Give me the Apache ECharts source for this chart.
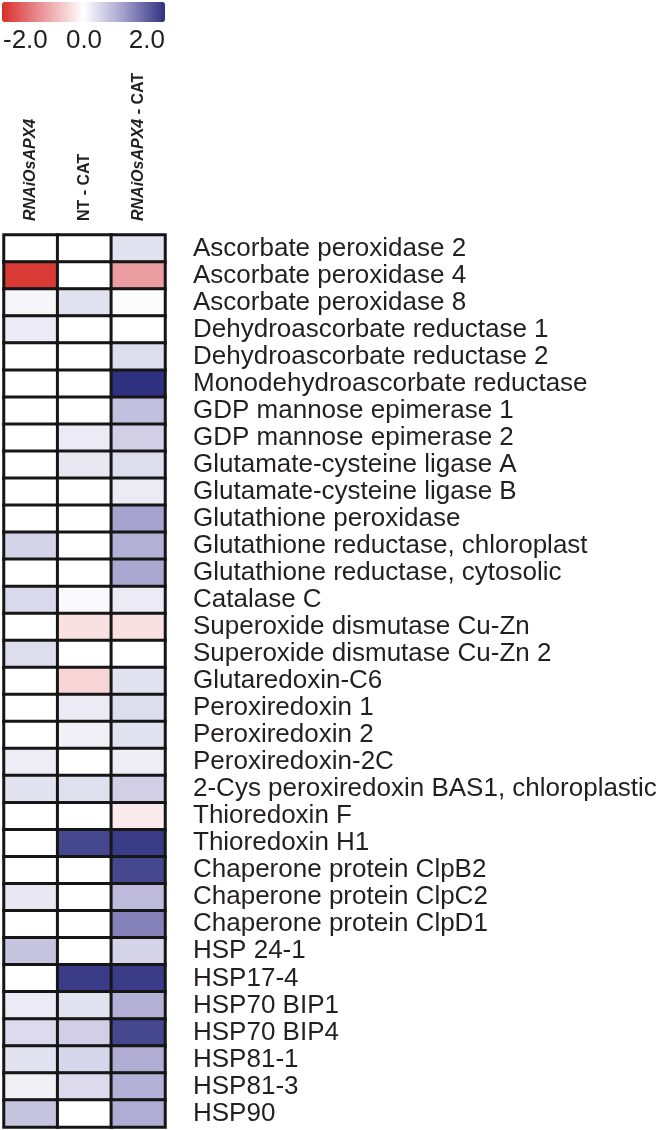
<!DOCTYPE html>
<html>
<head>
<meta charset="utf-8">
<script src="https://cdn.jsdelivr.net/npm/echarts@6/dist/echarts.min.js"></script>
<style>
  html, body { margin: 0; padding: 0; background: #fff; }
  #main { width: 670px; height: 1130px; }
</style>
</head>
<body>
<div id="main"></div>
<script>
var myChart = echarts.init(document.getElementById('main'));

var columns = ['RNAiOsAPX4', 'NT - CAT', 'RNAiOsAPX4 - CAT'];

var genes = [
  'Ascorbate peroxidase 2', 'Ascorbate peroxidase 4', 'Ascorbate peroxidase 8',
  'Dehydroascorbate reductase 1', 'Dehydroascorbate reductase 2',
  'Monodehydroascorbate reductase', 'GDP mannose epimerase 1', 'GDP mannose epimerase 2',
  'Glutamate-cysteine ligase A', 'Glutamate-cysteine ligase B', 'Glutathione peroxidase',
  'Glutathione reductase, chloroplast', 'Glutathione reductase, cytosolic', 'Catalase C',
  'Superoxide dismutase Cu-Zn', 'Superoxide dismutase Cu-Zn 2', 'Glutaredoxin-C6',
  'Peroxiredoxin 1', 'Peroxiredoxin 2', 'Peroxiredoxin-2C',
  '2-Cys peroxiredoxin BAS1, chloroplastic', 'Thioredoxin F', 'Thioredoxin H1',
  'Chaperone protein ClpB2', 'Chaperone protein ClpC2', 'Chaperone protein ClpD1',
  'HSP 24-1', 'HSP17-4', 'HSP70 BIP1', 'HSP70 BIP4', 'HSP81-1', 'HSP81-3', 'HSP90'
];

// log2 fold change, one array per column, same order as genes
var apx4Vals = [0, -1.9, 0.1, 0.2, 0, 0, 0, 0, 0, 0, 0, 0.45, 0, 0.4, 0, 0.35, 0,
  0, 0, 0.18, 0.3, 0, 0, 0, 0.25, 0, 0.6, 0, 0.2, 0.38, 0.3, 0.15, 0.6];
var ntCatVals = [0, 0, 0.3, 0, 0, 0, 0, 0.2, 0.25, 0, 0, 0, 0, 0.05, -0.3, 0, -0.4,
  0.2, 0.15, 0, 0.33, 0, 1.8, 0, 0, 0, 0, 1.9, 0.3, 0.5, 0.42, 0.38, 0];
var apx4CatVals = [0.3, -0.95, 0.03, 0, 0.35, 2.0, 0.65, 0.5, 0.35, 0.2, 0.95, 0.8, 0.9, 0.2, -0.3, 0, 0.3,
  0.35, 0.3, 0.18, 0.5, -0.2, 1.9, 1.8, 0.7, 1.25, 0.45, 1.9, 0.8, 1.8, 0.85, 0.8, 0.85];

var scaleTicks = [-2, 0, 2];

var colVals = [apx4Vals, ntCatVals, apx4CatVals];
var data = [];
colVals.forEach(function (vals, c) {
  vals.forEach(function (v, r) {
    data.push([c, r, v]);
  });
});

var textColor = '#231f20';

option = {
  backgroundColor: '#fff',
  animation: false,
  grid: [{
    left: 4,
    right: 505,
    top: 235,
    bottom: 3
  }, {
    left: 2,
    width: 163,
    top: 2,
    height: 20
  }],
  xAxis: [{
    type: 'category',
    position: 'top',
    data: columns,
    axisLine: { show: false },
    axisTick: { show: false },
    splitLine: { show: false },
    axisLabel: {
      rotate: -90,
      margin: 14,
      interval: 0,
      color: textColor,
      fontFamily: 'Liberation Sans',
      fontWeight: 'bold',
      fontSize: 16,
      formatter: function (val) {
        if (val === 'RNAiOsAPX4') return '{i|RNAiOsAPX4}';
        if (val === 'RNAiOsAPX4 - CAT') return '{i|RNAiOsAPX4}{n| - CAT}';
        return '{n|' + val + '}';
      },
      rich: {
        i: { fontStyle: 'italic', fontWeight: 'bold', fontSize: 16, fontFamily: 'Liberation Sans', color: textColor },
        n: { fontWeight: 'bold', fontSize: 16, fontFamily: 'Liberation Sans', color: textColor }
      }
    }
  }, {
    type: 'value',
    gridIndex: 1,
    min: -2,
    max: 2,
    interval: 2,
    axisLine: { show: false },
    axisTick: { show: false },
    splitLine: { show: false },
    axisLabel: {
      margin: 6,
      color: textColor,
      fontFamily: 'Liberation Sans',
      fontSize: 26,
      alignMinLabel: 'left',
      alignMaxLabel: 'right',
      formatter: function (v) {
        return scaleTicks.indexOf(v) >= 0 ? v.toFixed(1) : '';
      }
    }
  }],
  yAxis: [{
    type: 'category',
    position: 'right',
    inverse: true,
    data: genes,
    axisLine: { show: false },
    axisTick: { show: false },
    splitLine: { show: false },
    axisLabel: {
      margin: 28,
      interval: 0,
      color: textColor,
      fontFamily: 'Liberation Sans',
      fontSize: 26
    }
  }, {
    type: 'value',
    gridIndex: 1,
    show: false
  }],
  visualMap: {
    type: 'continuous',
    min: -2,
    max: 2,
    orient: 'horizontal',
    left: 2,
    top: 2,
    padding: 0,
    itemWidth: 20,
    itemHeight: 163,
    calculable: false,
    showLabel: false,
    text: null,
    seriesIndex: 0,
    inRange: {
      color: ['#d7302a', '#ea979c', '#ffffff', '#a29dcc', '#2e3180']
    }
  },
  series: [{
    type: 'heatmap',
    data: data,
    itemStyle: {
      borderColor: '#161616',
      borderWidth: 3
    },
    emphasis: { disabled: true }
  }]
};

myChart.setOption(option);
</script>
</body>
</html>
